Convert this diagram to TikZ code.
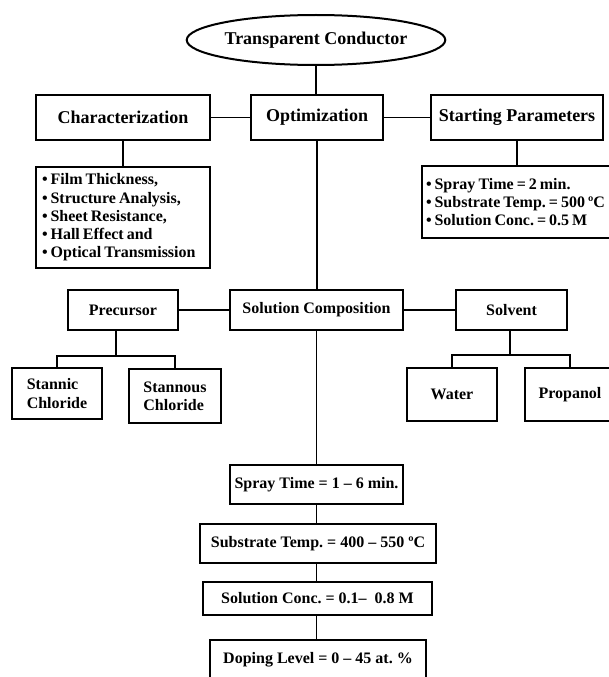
\documentclass[tikz,border=0pt]{standalone}
\usepackage{fontspec}
\setmainfont{Liberation Serif}
\usetikzlibrary{shapes.geometric,calc}
\newcommand\tightsp{\spaceskip=3pt\relax}
\begin{document}
\frenchspacing
\begin{tikzpicture}[x=1pt,y=-1pt,
  box/.style={draw, line width=2pt, inner sep=0pt, align=center,
    font=\fontsize{16}{18.3}\selectfont\bfseries},
  big/.style={font=\fontsize{18}{20}\selectfont\bfseries},
  listbox/.style={draw, line width=2pt, inner xsep=6pt, inner ysep=0pt, align=left,
    font=\fontsize{16}{18.3}\selectfont\bfseries, execute at begin node=\tightsp},
  conn/.style={line width=1.6pt}]
\useasboundingbox (0,0) rectangle (608,677);
% top level
\node[box, big, ellipse, minimum width=237pt, minimum height=50pt] (tc) at (316,40) {Transparent Conductor};
\node[box, big, minimum width=132pt, minimum height=45pt] (opt) at (317,117.5) {Optimization};
\node[box, big, minimum width=174pt, minimum height=45pt] (char) at (123,117.5) {Characterization};
\node[box, big, minimum width=172pt, minimum height=45pt] (sp) at (517,117.5) {Starting Parameters};
% lists
\node[listbox, text width=162pt, minimum height=101pt] (charlist) at (123,217.5)
  {\mbox{\textbullet{} Film Thickness,}\\\mbox{\textbullet{} Structure Analysis,}\\\mbox{\textbullet{} Sheet Resistance,}\\\mbox{\textbullet{} Hall Effect and}\\\mbox{\textbullet{} Optical Transmission}};
\node[listbox, inner xsep=4pt, text width=184pt, minimum height=72pt] (splist) at (518,202)
  {\mbox{\textbullet{} Spray Time = 2 min.}\\\mbox{\textbullet{} Substrate Temp. = 500 ºC}\\\mbox{\textbullet{} Solution Conc. = 0.5 M}};
% second level
\node[box, minimum width=173pt, minimum height=40pt] (sc) at (316.5,310) {Solution Composition};
\node[box, minimum width=110pt, minimum height=40pt] (pre) at (123,310) {Precursor};
\node[box, minimum width=111pt, minimum height=40pt] (solv) at (511.5,310) {Solvent};
\node[box, align=left, minimum width=90pt, minimum height=51pt] (stannic) at (57,393.5) {Stannic\\Chloride};
\node[box, align=left, minimum width=92pt, minimum height=54pt] (stannous) at (175,396) {Stannous\\Chloride};
\node[box, minimum width=90pt, minimum height=53pt] (water) at (452,394.5) {Water};
\node[box, minimum width=90pt, minimum height=53pt] (prop) at (570,394.5) {Propanol};
% bottom chain
\node[box, minimum width=173pt, minimum height=39pt] (spray) at (316.5,484.5) {Spray Time = 1 -- 6 min.};
\node[box, minimum width=236pt, minimum height=39pt] (subst) at (318,543.5) {Substrate Temp. = 400 -- 550 ºC};
\node[box, minimum width=229pt, minimum height=33pt] (conc) at (317.5,598.5) {Solution Conc. = 0.1--\ \ 0.8 M};
\node[box, minimum width=216pt, minimum height=40pt] (dop) at (318,660) {Doping Level = 0 -- 45 at. \%};
% junctions
\coordinate (pj) at (116,356);
\coordinate (sj) at (510,355);
% connectors
\draw[conn] (tc.south) -- (tc.south |- opt.north);
\draw[conn] (char) -- (opt);
\draw[conn] (opt) -- (sp);
\draw[conn] (char) -- (charlist);
\draw[conn] (sp.south) -- (sp.south |- splist.north);
\draw[conn] (opt.south) -- (opt.south |- sc.north);
\draw[conn] (pre) -- (sc);
\draw[conn] (sc) -- (solv);
\draw[conn] (pj |- pre.south) -- (pj);
\draw[conn] (stannic.north) |- (pj) -| (stannous.north);
\draw[conn] (sj |- solv.south) -- (sj);
\draw[conn] (water.north) |- (sj) -| (prop.north);
\draw[conn] (sc.south) -- (sc.south |- spray.north);
\draw[conn] (spray.south) -- (spray.south |- subst.north);
\draw[conn] (subst.south -| spray.south) -- (spray.south |- conc.north);
\draw[conn] (conc.south -| spray.south) -- (spray.south |- dop.north);
\end{tikzpicture}
\end{document}
